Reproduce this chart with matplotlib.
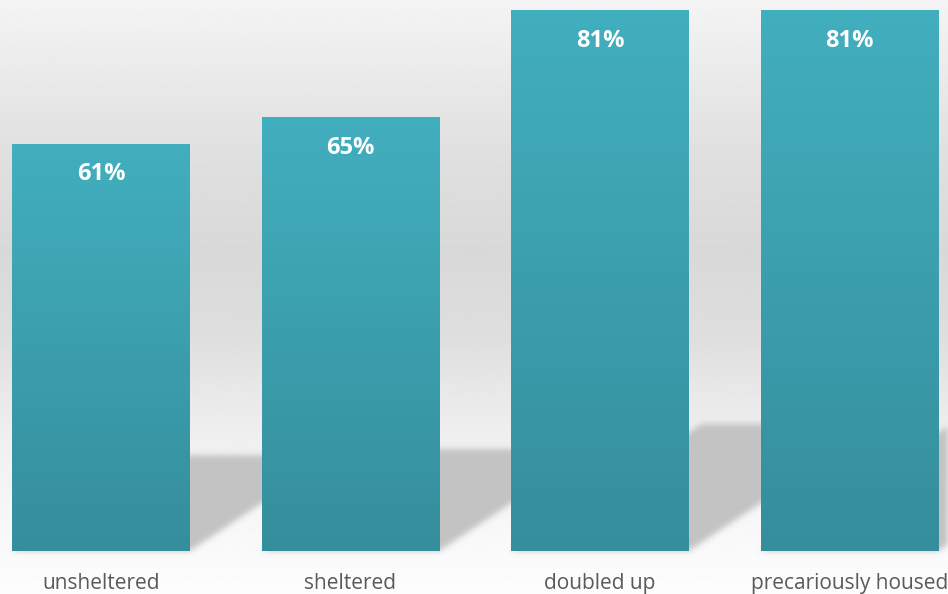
import numpy as np
import matplotlib
matplotlib.use("Agg")
import matplotlib.pyplot as plt
from matplotlib.colors import LinearSegmentedColormap, to_rgb
from matplotlib.patches import Polygon

# Data
categories = ["unsheltered", "sheltered", "doubled up", "precariously housed"]
values = [61, 65, 81, 81]
value_labels = ["61%", "65%", "81%", "81%"]

plt.rcParams['font.family'] = ['Open Sans', 'DejaVu Sans']

SHADOW = "#c3c3c3"


# Gaussian blur of the alpha channel, used as an agg filter for soft shadows
def blur(image, dpi):
    pad = 10
    alpha = np.pad(image[:, :, 3], pad, mode="constant")
    k = np.exp(-0.5 * (np.arange(-pad, pad + 1) / 3.0) ** 2)
    k /= k.sum()
    tmp = np.zeros_like(alpha)
    for i, w in enumerate(k):
        tmp += w * np.roll(alpha, i - pad, axis=0)
    a2 = np.zeros_like(tmp)
    for i, w in enumerate(k):
        a2 += w * np.roll(tmp, i - pad, axis=1)
    out = np.zeros(a2.shape + (4,), dtype=image.dtype)
    out[:, :, :3] = to_rgb(SHADOW)
    out[:, :, 3] = a2
    return out, -pad, -pad


fig = plt.figure(figsize=(9.48, 5.94), dpi=100)
ax = fig.add_axes([0, 0, 1, 1])
ax.set_axis_off()

# background gradient (top to bottom)
stops = [0.0, 0.25, 0.42, 0.56, 0.67, 0.74, 0.94, 1.0]
greys = [0.956, 0.88, 0.85, 0.87, 0.915, 0.94, 0.982, 0.992]
rows = np.interp(np.linspace(0, 1, 300), stops, greys)
bg = np.repeat(rows[:, None], 2, axis=1)
ax.imshow(bg, cmap="gray", vmin=0, vmax=1, extent=[0, 1, 0, 1],
          transform=ax.transAxes, aspect="auto", zorder=0, interpolation="bilinear")

x = np.arange(len(categories))
width = 0.713
bars = ax.bar(x, values, width=width, color="#3b9eab", zorder=2)

# px per data unit, used only to shape the cast shadows
px_y = 541 / 81
px_x = 249.5

for xi, v in zip(x, values):
    h = 0.235 * v
    dx = 1.5 * h * px_y / px_x
    left, right = xi - width / 2, xi + width / 2
    shadow = Polygon([(left, 0), (right, 0), (right + dx, h), (left + dx, h)],
                     closed=True, facecolor=SHADOW, edgecolor="none", zorder=1)
    shadow.set_agg_filter(blur)
    ax.add_patch(shadow)

# gradient fill inside each bar
bar_cmap = LinearSegmentedColormap.from_list("teal", ["#358e9c", "#42afbe"])
grad = np.linspace(0, 1, 256)[:, None]
for bar in bars:
    bb = bar.get_bbox()
    im = ax.imshow(grad, cmap=bar_cmap, origin="lower", aspect="auto",
                   extent=[bb.x0, bb.x1, bb.y0, bb.y1], zorder=2.5,
                   interpolation="bilinear")
    im.set_clip_path(bar)

for xi, v, lab in zip(x, values, value_labels):
    ax.text(xi, v - 4.6, lab, ha="center", va="center", color="white",
            fontsize=17, fontweight="bold", zorder=3)

for xi, cat in zip(x, categories):
    ax.text(xi, -4.85, cat, ha="center", va="center", color="#5a5a5a",
            fontsize=15, zorder=3)

ax.set_xlim(-101 / px_x, (948 - 101) / px_x)
ax.set_ylim(-43 / px_y, 81 + 10 / px_y)

fig.savefig("out.png", dpi=100)
